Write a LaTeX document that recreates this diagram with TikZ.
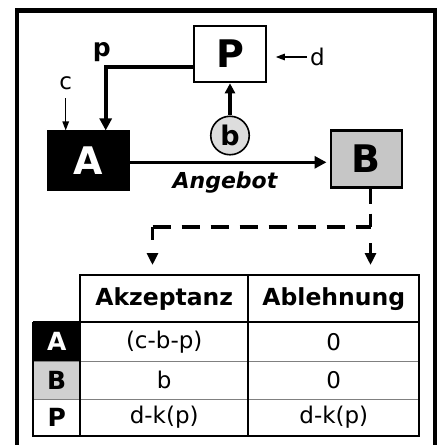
\documentclass[tikz,border=0pt]{standalone}
\usepackage{fontspec}
\setmainfont{DejaVu Sans}
\usetikzlibrary{arrows.meta}
\definecolor{bgray}{HTML}{C6C6C6}
\definecolor{cgray}{HTML}{DDDDDD}
\definecolor{lgray}{HTML}{D0D0D0}
\definecolor{rowline}{HTML}{808080}
\tikzset{
  bigbox/.style={draw=black, line width=2.6pt, inner sep=0pt,
    font=\fontsize{38}{41}\selectfont\bfseries},
  lbl/.style={inner sep=1pt, font=\fontsize{23}{26}\selectfont},
  thickarrow/.style={line width=3.6pt, -{Triangle[length=12pt,width=12pt]}},
  thinarrow/.style={line width=1.3pt, -{Triangle[length=9pt,width=6.5pt]}},
  dashline/.style={line width=3.8pt},
  dashtip/.style={-{Triangle[length=12pt,width=11pt]}},
  headtxt/.style={inner sep=0pt, font=\fontsize{23.5}{27}\selectfont\bfseries},
  celltxt/.style={inner sep=0pt, font=\fontsize{23}{27}\selectfont},
  rowlbl/.style={inner sep=0pt, font=\fontsize{25}{28}\selectfont\bfseries},
  tabline/.style={line width=2.2pt},
  thintab/.style={line width=1pt, draw=rowline}
}
\begin{document}
\begin{tikzpicture}[x=1pt,y=-1pt]
\useasboundingbox (0,0) rectangle (438,445);
\clip (0,0) rectangle (438,445);
\fill[white] (0,0) rectangle (438,445);
% outer frame (open at the bottom edge)
\draw[line width=4.5pt] (17,460) -- (17,10.5) -- (435,10.5) -- (435,460);

% boxes
\node[bigbox, fill=white, minimum width=72pt, minimum height=56pt] (P) at (230,54) {P};
\node[bigbox, fill=black, text=white, minimum width=80pt, minimum height=58pt] (A) at (88.5,160.7) {A};
\node[bigbox, fill=bgray, minimum width=71pt, minimum height=57pt] (B) at (366.3,158.8) {B};
\node[circle, draw=black, line width=1.6pt, fill=cgray, inner sep=0pt, minimum size=38.5pt,
  font=\fontsize{27}{30}\selectfont\bfseries] (b) at (230,135.5) {b};

% labels
\node[lbl, font=\fontsize{25}{28}\selectfont\bfseries] (plbl) at (101.7,51.7) {p};
\node[lbl] (clbl) at (65.7,83) {c};
\node[lbl] (dlbl) at (317.5,57) {d};
\node[inner sep=0pt, font=\fontsize{22}{26}\selectfont\bfseries\itshape] (ang) at (225,183) {Angebot};

% connectors
\coordinate (pbend) at (105.7,66.7);
\draw[thickarrow] (P.west |- pbend) -- (pbend) -- (pbend |- A.north);
\coordinate (cstart) at (65.7,98);
\draw[thinarrow] (cstart) -- (cstart |- A.north);
\draw[thinarrow, shorten >=8.5pt, shorten <=2pt] (dlbl.west) -- (P.east |- dlbl.west);
\draw[thickarrow, -{Triangle[length=10pt,width=10pt]}] (b.north) -- (P.south);
\coordinate (abline) at (0,162.3);
\draw[thickarrow, shorten >=3pt] (A.east |- abline) -- (B.west |- abline);

% dashed connectors to the table
\coordinate (dj) at (370.5,227);
\coordinate (dl) at (152.5,227);
\coordinate (tl) at (152.5,265);
\coordinate (tr) at (370.5,265);
\draw[dashline, dash pattern=on 15pt off 10pt] (B.south -| dj) -- (dj);
\draw[dashline, dash pattern=on 18pt off 11pt] (dl) -- (dj);
\draw[dashline, dashtip, dash pattern=on 13pt off 13pt] (dl) -- (tl);
\draw[dashline, dashtip, dash pattern=on 0pt off 16pt on 40pt] (dj) -- (tr);

% table fills
\fill[black] (33.3,322.3) rectangle (80,361);
\fill[lgray] (33.3,361) rectangle (80,399);
% table lines
\draw[thintab] (33.3,361) -- (419.3,361);
\draw[thintab] (33.3,399) -- (419.3,399);
\draw[tabline] (80,275) rectangle (419.3,435.7);
\draw[tabline] (248.3,275) -- (248.3,435.7);
\draw[tabline] (33.3,322.3) -- (419.3,322.3);
\draw[tabline] (33.3,322.3) -- (33.3,435.7) -- (80,435.7);
\draw[tabline] (80,275) -- (80,435.7);

% table texts
\node[headtxt] (hak) at (164.2,298.7) {Akzeptanz};
\node[headtxt] (hab) at (333.8,298.7) {Ablehnung};
\node[rowlbl, text=white] (ra) at (56.7,341.7) {A};
\node[rowlbl] (rb) at (56.7,380) {B};
\node[rowlbl] (rp) at (56.7,417.4) {P};
\node[celltxt] (a1) at (164.2,341.7) {(c-b-p)};
\node[celltxt] (a2) at (333.8,341.7) {0};
\node[celltxt] (b1) at (164.2,380) {b};
\node[celltxt] (b2) at (333.8,380) {0};
\node[celltxt] (p1) at (164.2,417.4) {d-k(p)};
\node[celltxt] (p2) at (333.8,417.4) {d-k(p)};
\end{tikzpicture}
\end{document}
